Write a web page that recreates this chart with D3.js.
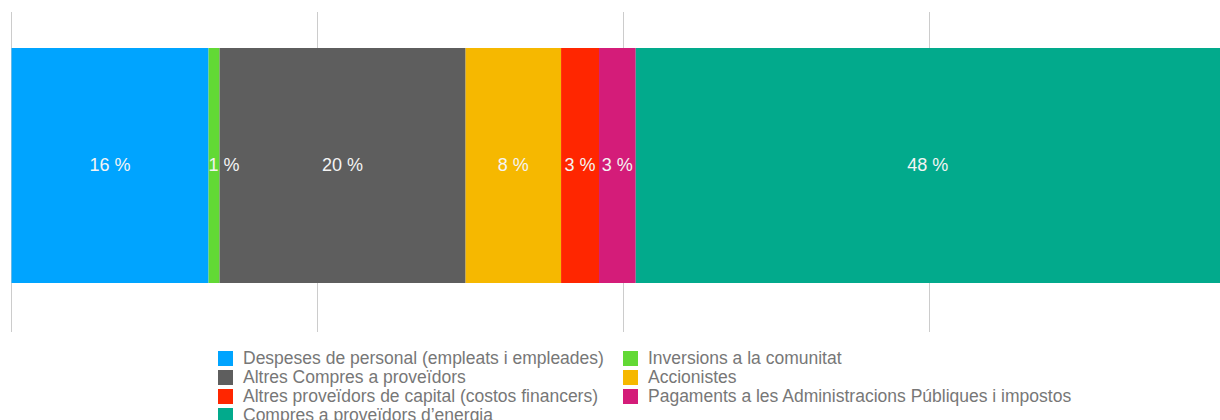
<!DOCTYPE html>
<html>
<head>
<meta charset="utf-8">
<script src="https://cdn.jsdelivr.net/npm/d3@7"></script>
<style>
  body { margin: 0; background: #fff; }
  svg { display: block; font-family: "Liberation Sans", Arial, sans-serif; }
</style>
</head>
<body>
<svg id="chart" width="1220" height="420"></svg>
<script>
// categories, values (percent of total) and their colours
var categories = [
  "Despeses de personal (empleats i empleades)",
  "Inversions a la comunitat",
  "Altres Compres a proveïdors",
  "Accionistes",
  "Altres proveïdors de capital (costos financers)",
  "Pagaments a les Administracions Públiques i impostos",
  "Compres a proveïdors d\u2019energia"
]
var values = [16.1, 0.9, 20.1, 7.8, 3.1, 3.0, 47.8]
var labels = ["16 %", "1 %", "20 %", "8 %", "3 %", "3 %", "48 %"]
var colors = ["#00a4ff", "#62d935", "#5e5e5e", "#f6b800", "#ff2600", "#d41c79", "#02aa8c"]
var gridTicks = [0, 25, 50, 75, 100]

var svg = d3.select("#chart")
var x = d3.scaleLinear().domain([0, 100]).range([11.5, 11.5 + 1224])
var barTop = 48, barBottom = 283

// stack the segments
var acc = 0
var segs = values.map(function(v, i){
  var s = {x0: acc, x1: acc + v, color: colors[i], label: labels[i]}
  acc += v
  return s
})

// gridlines
svg.append("g")
   .selectAll("line")
   .data(gridTicks)
   .enter().append("line")
   .attr("x1", function(d){ return Math.round(x(d)) - 0.5 })
   .attr("x2", function(d){ return Math.round(x(d)) - 0.5 })
   .attr("y1", 12).attr("y2", 332)
   .attr("stroke", "#cccccc").attr("stroke-width", 1)

// bars
svg.append("g")
   .selectAll("rect")
   .data(segs)
   .enter().append("rect")
   .attr("x", function(d){ return x(d.x0) })
   .attr("width", function(d){ return x(d.x1) - x(d.x0) })
   .attr("y", barTop).attr("height", barBottom - barTop)
   .attr("fill", function(d){ return d.color })

// value labels, centred but kept from spilling left of their segment
var vl = svg.append("g")
   .selectAll("text")
   .data(segs)
   .enter().append("text")
   .attr("y", 171)
   .attr("text-anchor", "start")
   .attr("fill", "#f4f4f4")
   .style("font-size", "18px")
   .text(function(d){ return d.label })
vl.attr("x", function(d){
   var w = this.getComputedTextLength()
   var c = (x(d.x0) + Math.min(x(d.x1), 1220)) / 2
   return Math.max(c - w / 2, x(d.x0))
})

// legend, two columns, row-major
var items = svg.append("g")
   .selectAll("g")
   .data(categories)
   .enter().append("g")
   .attr("transform", function(d, i){
      var col = i % 2, row = Math.floor(i / 2)
      return "translate(" + (col ? 623 : 218) + "," + (351 + row * 19) + ")"
   })
items.append("rect")
   .attr("width", 15).attr("height", 15)
   .attr("fill", function(d, i){ return colors[i] })
items.append("text")
   .attr("x", 25).attr("y", 13)
   .attr("fill", "#777777")
   .style("font-size", "17.5px")
   .text(function(d){ return d })
</script>
</body>
</html>
